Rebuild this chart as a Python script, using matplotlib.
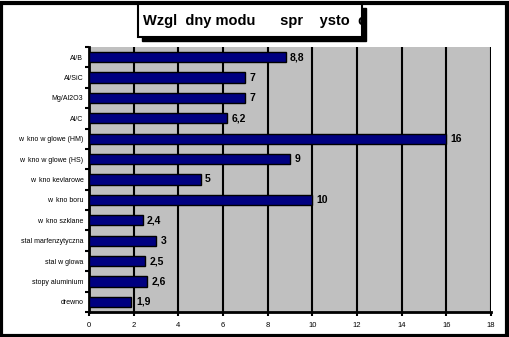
import matplotlib
matplotlib.use("Agg")
import matplotlib.pyplot as plt
from matplotlib.patches import Rectangle

categories = ["Al/B", "Al/SiC", "Mg/Al2O3", "Al/C", "w  kno w glowe (HM)",
              "w  kno w glowe (HS)", "w  kno kevlarowe", "w  kno boru",
              "w  kno szklane", "stal marfenzytyczna", "stal w glowa",
              "stopy aluminium", "drewno"]
values = [8.8, 7, 7, 6.2, 16, 9, 5, 10, 2.4, 3, 2.5, 2.6, 1.9]
value_labels = ["8,8", "7", "7", "6,2", "16", "9", "5", "10", "2,4", "3", "2,5", "2,6", "1,9"]
xticks = [0, 2, 4, 6, 8, 10, 12, 14, 16, 18]
title = "Wzgl  dny modu      spr    ysto  c"

plt.rcParams['font.family'] = ['Liberation Sans', 'DejaVu Sans']

W, H = 510, 337
fig = plt.figure(figsize=(W/100, H/100), dpi=100)
ax = fig.add_axes([89/W, 1-312/H, (491-89)/W, (312-47)/H])
ax.set_facecolor("#C0C0C0")

n = len(categories)
pos = list(range(n))
ax.barh(pos, values, height=0.5, color="#000080", edgecolor="black", linewidth=1, zorder=3)
for p, v, lab in zip(pos, values, value_labels):
    ax.text(v + 0.2, p, lab, va="center", ha="left", fontsize=7.5, fontweight="bold", zorder=4)

ax.set_xlim(0, 18)
ax.set_ylim(n - 0.5, -0.5)
ax.set_xticks(xticks)
ax.set_xticklabels([str(t) for t in xticks], fontsize=5.5)
ax.set_yticks(pos)
ax.set_yticklabels(categories, fontsize=5)
ax.set_yticks([p - 0.5 for p in pos] + [n - 0.5], minor=True)
ax.tick_params(axis="y", which="major", length=0, pad=4)
ax.tick_params(axis="y", which="minor", length=3, width=1.5, direction="out")
ax.tick_params(axis="x", which="major", length=3, width=1.5, direction="out", pad=4)
ax.grid(axis="x", color="black", linewidth=1.5, zorder=1)
ax.set_axisbelow(True)
for s in ["top", "right"]:
    ax.spines[s].set_visible(False)
for s in ["left", "bottom"]:
    ax.spines[s].set_linewidth(2)

# outer figure border
fig.patches.append(Rectangle((1.5/W, 1.5/H), 1-4/W, 1-4/H, transform=fig.transFigure,
                             fill=False, edgecolor="black", linewidth=3))
# title box with shadow
bx0, by0, bx1, by1 = 138, 4, 362, 37
fig.patches.append(Rectangle(((bx0+4)/W, 1-(by1+4)/H), (bx1-bx0)/W, (by1-by0)/H,
                             transform=fig.transFigure, facecolor="black", edgecolor="black"))
box = Rectangle((bx0/W, 1-by1/H), (bx1-bx0)/W, (by1-by0)/H,
                transform=fig.transFigure, facecolor="white", edgecolor="black", linewidth=1.5)
fig.patches.append(box)
t = fig.text(143/W, 1-21/H, title, ha="left", va="center", fontsize=10.5, fontweight="bold")
t.set_clip_path(box)

fig.savefig("out.png", dpi=100)
